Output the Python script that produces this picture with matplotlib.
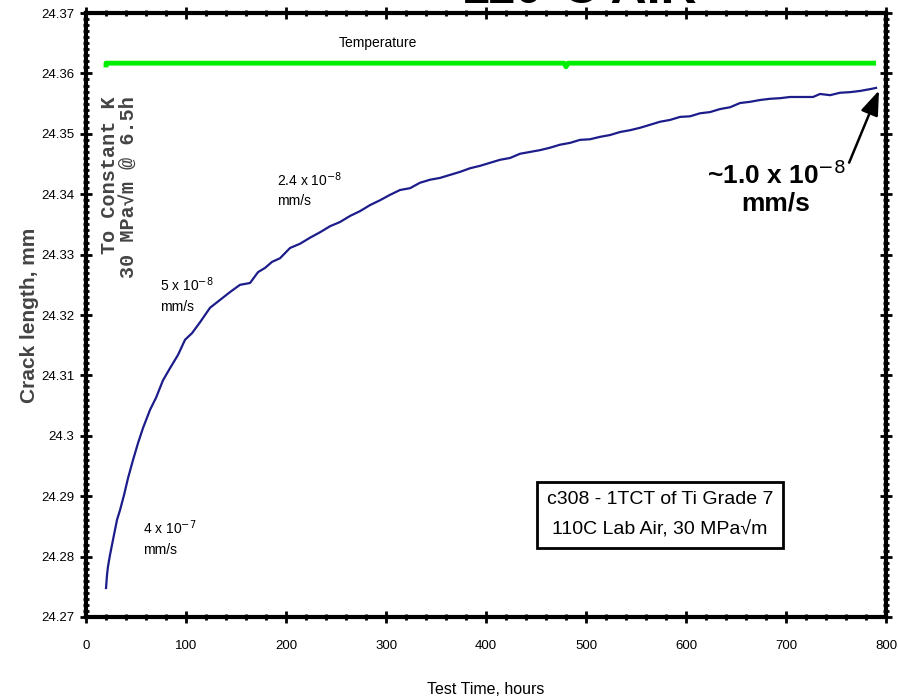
import matplotlib
matplotlib.use('Agg')
import matplotlib.pyplot as plt
from matplotlib.ticker import MultipleLocator, FuncFormatter

# crack length vs time
time_h = [20, 21, 22, 24, 27, 31, 34, 38, 42, 47, 52, 57, 64, 70, 77, 84, 92, 99,
          106, 114, 124, 134, 144, 154, 164, 172, 179, 186, 194, 204, 214, 224,
          234, 244, 254, 264, 274, 284, 294, 304, 314, 324, 334, 344, 354, 364,
          374, 384, 394, 404, 414, 424, 434, 444, 454, 464, 474, 484, 494, 504,
          514, 524, 534, 544, 554, 564, 574, 584, 594, 604, 614, 624, 634, 644,
          654, 664, 674, 684, 694, 704, 727, 734, 744, 754, 764, 774, 784, 790]
crack_mm = [24.2748, 24.2770, 24.2784, 24.2803, 24.2828, 24.2861, 24.2877, 24.2902,
            24.2930, 24.2960, 24.2988, 24.3013, 24.3043, 24.3063, 24.3092, 24.3112,
            24.3134, 24.3159, 24.3170, 24.3188, 24.3212, 24.3225, 24.3238, 24.3250,
            24.3253, 24.3271, 24.3278, 24.3288, 24.3294, 24.3311, 24.3318, 24.3328,
            24.3337, 24.3347, 24.3354, 24.3364, 24.3372, 24.3382, 24.3390, 24.3399,
            24.3407, 24.3410, 24.3419, 24.3424, 24.3427, 24.3432, 24.3437, 24.3443,
            24.3447, 24.3452, 24.3457, 24.3460, 24.3467, 24.3470, 24.3473, 24.3477,
            24.3482, 24.3485, 24.3490, 24.3491, 24.3495, 24.3498, 24.3503, 24.3506,
            24.3510, 24.3515, 24.3520, 24.3523, 24.3528, 24.3529, 24.3534, 24.3536,
            24.3541, 24.3544, 24.3551, 24.3553, 24.3556, 24.3558, 24.3559, 24.3561,
            24.3561, 24.3566, 24.3564, 24.3568, 24.3569, 24.3571, 24.3574, 24.3576]

# temperature trace (drawn on crack-length scale)
temp_t = [20, 20, 478, 480, 482, 790]
temp_y = [24.3610, 24.3617, 24.3617, 24.3611, 24.3617, 24.3617]

SANS = 'Liberation Sans'

fig = plt.figure(figsize=(8.98, 6.97), dpi=100)
ax = fig.add_axes([0.0958, 0.1148, 0.8909, 0.8665])

ax.plot(temp_t, temp_y, color='#00ee00', lw=3.5, solid_capstyle='butt')
ax.plot(time_h, crack_mm, color='#1c1c8a', lw=1.6)

ax.set_xlim(0, 800)
ax.set_ylim(24.27, 24.37)
ax.xaxis.set_major_locator(MultipleLocator(100))
ax.xaxis.set_minor_locator(MultipleLocator(20))
ax.yaxis.set_major_locator(MultipleLocator(0.01))
ax.yaxis.set_minor_locator(MultipleLocator(0.001))
ax.yaxis.set_major_formatter(FuncFormatter(lambda v, p: '%g' % round(v, 2)))

for s in ax.spines.values():
    s.set_linewidth(3)
ax.tick_params(which='major', direction='inout', length=9, width=2,
               top=True, right=True, labelsize=9.5, pad=4)
ax.tick_params(which='minor', direction='inout', length=5, width=2,
               top=True, right=True)
ax.tick_params(axis='x', which='major', pad=12)
for lab in ax.get_xticklabels() + ax.get_yticklabels():
    lab.set_family(SANS)

ax.set_xlabel('Test Time, hours', family=SANS, fontsize=11.5, labelpad=22)
ax.set_ylabel('Crack length, mm', family=SANS, fontsize=15, fontweight='bold',
              color='#444444')
ax.yaxis.set_label_coords(-0.059, 0.5)

# annotations
ax.text(292, 24.3650, 'Temperature', family=SANS, fontsize=10,
        ha='center', va='center')
ax.text(33, 24.3562, 'To Constant K\n30 MPa\u221am @ 6.5h', family='Liberation Mono',
        fontweight='bold', fontsize=14.5, rotation=90, ha='center', va='top',
        multialignment='right', color='#444444', linespacing=1.0)
ax.text(191, 24.3440, '2.4 x 10$^{-8}$\nmm/s', family=SANS, fontsize=10,
        ha='left', va='top', linespacing=1.5)
ax.text(74, 24.3265, '5 x 10$^{-8}$\nmm/s', family=SANS, fontsize=10,
        ha='left', va='top', linespacing=1.5)
ax.text(57, 24.2863, '4 x 10$^{-7}$\nmm/s', family=SANS, fontsize=10,
        ha='left', va='top', linespacing=1.5)
ax.text(690, 24.3410, '~1.0 x 10$^{-8}$\nmm/s', family=SANS,
        fontweight='bold', fontsize=19, ha='center', va='center',
        multialignment='center', linespacing=1.1)
ax.annotate('', xy=(794, 24.3576), xytext=(762, 24.3448),
            arrowprops=dict(arrowstyle='-|>,head_width=0.55,head_length=1.5',
                            color='black', lw=1.8))
ax.text(574, 24.2869, 'c308 - 1TCT of Ti Grade 7\n110C Lab Air, 30 MPa\u221am',
        family=SANS, fontsize=14, ha='center', va='center',
        multialignment='center', linespacing=1.95,
        bbox=dict(boxstyle='square,pad=0.5', fc='white', ec='black', lw=2))

# title, cut off at the top of the picture
fig.text(0.645, 1 - 3 / 697, '110\u00b0C AIR', fontsize=36, fontweight='bold',
         family=SANS, ha='center', va='baseline')

fig.savefig('out.png', dpi=100)
